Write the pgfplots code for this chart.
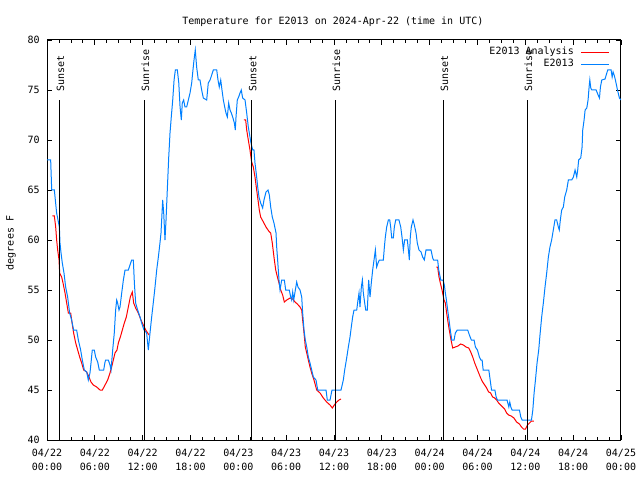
\documentclass[border=0pt]{standalone}
\usepackage{pgfplots}
\pgfplotsset{compat=1.18}
\usepackage{fontspec}
\setmainfont{DejaVu Sans Mono}
\definecolor{obsblue}{RGB}{0,128,255}
\begin{document}
\fontsize{10}{14}\selectfont
\begin{tikzpicture}[x=1pt,y=1pt]
\path[use as bounding box] (0,0) rectangle (640,480);
\begin{axis}[
  at={(47pt,40pt)}, anchor=south west,
  width=574pt, height=400pt, scale only axis,
  xmin=0, xmax=72, ymin=40, ymax=80,
  xtick={0,6,...,72},
  xticklabels={{04/22\\00:00},{04/22\\06:00},{04/22\\12:00},{04/22\\18:00},{04/23\\00:00},{04/23\\06:00},{04/23\\12:00},{04/23\\18:00},{04/24\\00:00},{04/24\\06:00},{04/24\\12:00},{04/24\\18:00},{04/25\\00:00}},
  minor x tick num=3,
  ytick={40,45,...,80},
  tick align=inside,
  major tick length=5pt, minor tick length=3pt,
  every tick/.style={black, line width=0.8pt},
  axis line style={line width=1pt},
  tick label style={font=\fontsize{10}{14}\selectfont},
  xticklabel style={align=center, yshift=-5.5pt},
  yticklabel style={xshift=-3.7pt},
  /pgf/number format/assume math mode=true,
  title={Temperature for E2013 on 2024-Apr-22 (time in UTC)},
  title style={at={(axis description cs:0.498,1)}, anchor=base, yshift=9pt},
  ylabel={degrees F},
  every axis y label/.style={at={(axis description cs:-0.063,0.4925)}, rotate=90, anchor=center},
  legend style={draw=none, fill=none, at={(rel axis cs:0.9808,0.986)}, anchor=north east,
    legend cell align=right, row sep=0pt, column sep=6pt, inner sep=0pt,
    nodes={inner sep=1pt, text height=7.5pt, text depth=3pt}},
  legend plot pos=right,
  legend image code/.code={\draw[#1] (0pt,0pt) -- (28pt,0pt);},
]
% Analysis (red), three segments
\addplot[red, line width=1pt] coordinates {
(0.67,62.4) (0.92,62.4) (1.09,61.3) (1.21,60) (1.34,59) (1.51,58) (1.59,56.7) (1.84,56.3)
(2.01,55.7) (2.26,54.7) (2.47,53.7) (2.68,52.7) (2.97,52.7) (3.09,52) (3.34,50.7) (3.6,49.7)
(3.85,49) (4.1,48.3) (4.35,47.7) (4.6,47) (4.98,46.8) (5.27,46.3) (5.52,45.8) (5.81,45.5)
(6.23,45.3) (6.65,45) (6.94,45) (7.28,45.5) (7.61,46) (7.9,46.7) (8.11,47.3) (8.32,48)
(8.53,48.7) (8.78,49) (8.95,49.7) (9.2,50.3) (9.45,51) (9.7,51.7) (9.95,52.3) (10.2,53.3)
(10.45,54.3) (10.7,54.8) (10.87,53.7) (11.12,53.2) (11.45,52.7) (11.79,52) (12.08,51.5)
(12.38,51) (12.8,50.5)
};
\addlegendentry{E2013 Analysis}
\addplot[red, line width=1pt, forget plot] coordinates {
(24.71,72) (24.92,72) (25.05,71) (25.25,70) (25.46,69) (25.67,67.8) (25.88,67.3) (26.09,66.3)
(26.3,65) (26.47,64) (26.63,63) (26.8,62.3) (27.14,61.8) (27.47,61.3) (27.81,60.9) (28.06,60.7)
(28.26,59.7) (28.47,58.3) (28.69,57) (28.9,56.3) (29.1,55.7) (29.31,55) (29.56,54.5) (29.77,53.8)
(30.07,54) (30.49,54.2) (30.82,54.1) (31.11,53.8) (31.4,53.6) (31.74,53.3) (31.95,53) (32.07,52)
(32.24,50.7) (32.4,49.3) (32.58,48.7) (32.78,48) (32.99,47.3) (33.2,46.7) (33.49,46) (33.83,45)
(34.25,44.7) (34.66,44.2) (35.08,43.8) (35.5,43.5) (35.79,43.2) (36.04,43.5) (36.34,43.8)
(36.63,44) (36.88,44.1)
};
\addplot[red, line width=1pt, forget plot] coordinates {
(48.83,57.3) (49.0,57.3) (49.17,56.3) (49.34,55.7) (49.55,55) (49.8,54) (49.97,53.7) (50.13,52.7)
(50.3,51.8) (50.46,51) (50.68,50) (50.89,49.2) (51.22,49.3) (51.55,49.4) (51.89,49.6) (52.23,49.5)
(52.56,49.3) (52.9,49.2) (53.15,48.8) (53.4,48.3) (53.65,47.7) (53.9,47.2) (54.15,46.7) (54.4,46.2)
(54.65,45.8) (54.9,45.5) (55.15,45.2) (55.4,44.8) (55.65,44.7) (55.9,44.3) (56.15,44.2) (56.4,44)
(56.65,43.7) (56.9,43.5) (57.15,43.3) (57.4,43.1) (57.65,42.7) (57.9,42.5) (58.23,42.4) (58.57,42.2)
(58.9,41.8) (59.26,41.6) (59.52,41.3) (59.77,41.1) (60.02,41.1) (60.27,41.5) (60.52,41.7)
(60.77,41.9) (61.07,41.9)
};
% Observations (blue)
\addplot[obsblue, line width=1pt] coordinates {
(0.0,68) (0.46,68) (0.59,65) (0.92,65) (1.21,62.7) (1.55,61.3) (1.63,59.7) (1.76,58.7) (1.92,57.7)
(2.13,56.7) (2.34,55.3) (2.59,54.3) (2.84,52.7) (3.09,52) (3.34,51) (3.72,51) (3.93,50) (4.22,49)
(4.43,48) (4.68,47) (4.98,46.8) (5.18,46) (5.39,46.7) (5.52,47.7) (5.68,49) (5.93,49) (6.1,48.3)
(6.36,47.8) (6.56,47) (7.11,47) (7.28,47.8) (7.36,48) (7.69,48) (7.9,47.5) (8.03,47) (8.24,49)
(8.44,50.7) (8.61,53) (8.74,54) (8.86,53.7) (9.03,53) (9.16,53.3) (9.37,54.7) (9.58,56) (9.79,57)
(10.2,57) (10.41,57.5) (10.62,58) (10.83,58) (10.96,55.7) (11.12,53.7) (11.37,53) (11.67,52.3)
(11.87,51.7) (12.17,51) (12.5,50.7) (12.71,49) (12.92,50.7) (13.13,52.3) (13.33,53.7) (13.55,55.3)
(13.76,57) (13.97,58.3) (14.17,59.7) (14.3,60.7) (14.43,62.7) (14.51,64) (14.64,62.7) (14.8,60)
(14.93,62) (15.09,65) (15.27,68.3) (15.43,70.7) (15.59,72.3) (15.77,74) (15.94,76) (16.1,77)
(16.35,77) (16.53,75.7) (16.69,73.3) (16.85,72) (16.97,73.7) (17.14,74) (17.31,73.3) (17.52,73.3)
(17.73,74) (17.94,74.7) (18.15,75.7) (18.27,76.7) (18.44,78) (18.6,79) (18.77,77.3) (18.98,76)
(19.19,76) (19.4,75) (19.61,74.2) (20.03,74) (20.23,75.7) (20.45,76) (20.66,76.5) (20.86,77)
(21.29,77) (21.45,76) (21.61,75.3) (21.79,76) (21.95,75) (22.12,74) (22.29,73.3) (22.45,72.7)
(22.62,72.3) (22.79,73.7) (22.96,73) (23.12,72.7) (23.29,72.3) (23.5,71.7) (23.62,71) (23.71,72.3)
(23.87,74) (24.04,74.3) (24.21,74.7) (24.37,75) (24.54,74.2) (24.84,74) (25.05,72.7) (25.25,71.3)
(25.46,70.3) (25.59,69.7) (25.8,69) (25.96,69) (26.09,67.7) (26.3,66.3) (26.43,65.3) (26.59,64.3)
(26.8,63.7) (27.05,63.2) (27.22,64) (27.47,64.8) (27.72,65) (27.89,64.5) (28.06,63.3) (28.26,62.3)
(28.47,61.7) (28.73,60.7) (28.81,59.3) (28.93,58) (29.1,56) (29.23,55) (29.44,56) (29.77,56)
(29.94,55) (30.39,55) (30.57,54.3) (30.69,54) (30.82,54.8) (30.95,54) (31.15,55) (31.32,55.8)
(31.48,55.3) (31.74,55) (31.95,54.3) (32.07,52.7) (32.24,51) (32.4,50) (32.58,49.3) (32.78,48.3)
(32.99,47.7) (33.2,47) (33.41,46.3) (33.74,46) (33.96,45) (35.0,45) (35.16,44) (35.5,44) (35.75,45)
(36.88,45) (37.17,46) (37.34,47) (37.59,48.2) (37.8,49.3) (38.01,50.3) (38.17,51.3) (38.34,52.3)
(38.51,53) (38.85,53) (39.01,54) (39.14,54.7) (39.26,53.3) (39.43,55.3) (39.56,56) (39.68,54.7)
(39.85,53.7) (39.98,53) (40.18,53) (40.35,56) (40.52,54.3) (40.68,55.7) (40.85,57) (41.02,58)
(41.19,59) (41.35,57.3) (41.52,57.7) (41.69,58) (42.19,58) (42.32,59.3) (42.44,60.3) (42.61,61.3)
(42.82,62) (42.99,62) (43.11,61.3) (43.24,60.2) (43.44,60.2) (43.57,61.3) (43.74,62) (44.15,62)
(44.37,61.3) (44.53,60.3) (44.7,59) (44.86,60) (45.2,60) (45.37,58.7) (45.45,58) (45.57,60.3)
(45.7,61.3) (45.91,62) (46.08,61.5) (46.29,60.7) (46.45,59.7) (46.66,59) (46.92,58.8) (47.12,58.3)
(47.33,58) (47.54,59) (48.17,59) (48.38,58.2) (48.5,58) (49.0,58) (49.14,57) (49.39,56) (49.68,56)
(49.84,55.5) (49.97,54.7) (50.1,54) (50.26,53) (50.43,52) (50.59,51) (50.77,50) (51.06,50)
(51.22,50.7) (51.47,51) (52.77,51) (52.98,50.5) (53.23,50) (53.57,50) (53.74,49.3) (53.99,49)
(54.24,48.3) (54.42,48) (54.58,48) (54.71,47) (55.42,47) (55.59,46) (55.76,45) (56.18,45)
(56.34,44.3) (56.5,44) (57.71,44) (57.93,43.3) (58.05,43.8) (58.18,43.3) (58.34,43) (59.26,43)
(59.43,42.3) (59.6,42) (60.77,42) (60.94,43) (61.1,44.7) (61.27,46) (61.47,47.7) (61.68,49)
(61.84,50.5) (62.05,52.3) (62.26,53.7) (62.47,55.3) (62.68,56.7) (62.89,58.3) (63.09,59.3) (63.3,60)
(63.51,61) (63.72,62) (63.93,62) (64.14,61.3) (64.26,61) (64.39,62) (64.56,63) (64.77,63.3)
(64.94,64.3) (65.19,65) (65.4,66) (65.82,66) (66.03,66.3) (66.24,67) (66.45,66.3) (66.57,67)
(66.69,68) (66.95,68.2) (67.12,69.3) (67.2,71) (67.37,72) (67.5,73) (67.71,73.2) (67.87,74)
(68.0,75.3) (68.09,76) (68.21,75.2) (68.34,75) (68.88,75) (69.13,74.5) (69.3,74.2) (69.42,75.3)
(69.59,76) (70.0,76.1) (70.22,76.7) (70.34,77) (70.76,77) (70.89,76.3) (71.01,76.8) (71.14,76.5)
(71.3,76) (71.56,75) (71.8,74.2) (72.0,74)
};
\addlegendentry{E2013}
% Sunset / sunrise markers
\addplot[black, line width=1pt, forget plot] coordinates {(1.54,40) (1.54,74)};
\addplot[black, line width=1pt, forget plot] coordinates {(12.2,40) (12.2,74)};
\addplot[black, line width=1pt, forget plot] coordinates {(25.65,40) (25.65,74)};
\addplot[black, line width=1pt, forget plot] coordinates {(36.16,40) (36.16,74)};
\addplot[black, line width=1pt, forget plot] coordinates {(49.7,40) (49.7,74)};
\addplot[black, line width=1pt, forget plot] coordinates {(60.25,40) (60.25,74)};
\node[rotate=90, anchor=west, inner sep=0pt] at (axis cs:1.69,74.8) {Sunset};
\node[rotate=90, anchor=west, inner sep=0pt] at (axis cs:12.35,74.8) {Sunrise};
\node[rotate=90, anchor=west, inner sep=0pt] at (axis cs:25.8,74.8) {Sunset};
\node[rotate=90, anchor=west, inner sep=0pt] at (axis cs:36.31,74.8) {Sunrise};
\node[rotate=90, anchor=west, inner sep=0pt] at (axis cs:49.85,74.8) {Sunset};
\node[rotate=90, anchor=west, inner sep=0pt] at (axis cs:60.4,74.8) {Sunrise};
\end{axis}
\end{tikzpicture}
\end{document}
